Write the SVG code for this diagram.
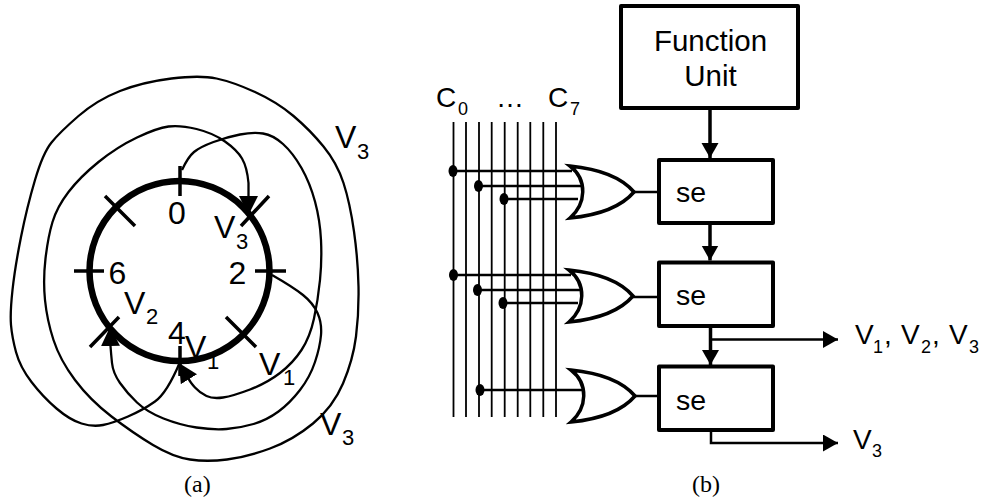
<svg xmlns="http://www.w3.org/2000/svg" width="982" height="504" viewBox="0 0 982 504">
<style>
text{font-family:"Liberation Sans",Arial,sans-serif;fill:#000}
.n{font-size:32px}.s{font-size:22px}.r{font-size:29.500px}.e{font-size:28.500px}.k{font-size:28px}.q{font-size:18px}
.cap{font-family:"Liberation Serif",serif;font-size:24px}
.w{fill:none;stroke:#000;stroke-width:2.300}
.t{fill:none;stroke:#000;stroke-width:3.500}
.b{fill:#fff;stroke:#000;stroke-width:4;stroke-linejoin:round}
.g{fill:#fff;stroke:#000;stroke-width:3.500;stroke-linejoin:miter}
.v{stroke:#000;stroke-width:1.800;fill:none}
.h{stroke:#000;stroke-width:2.500;fill:none}
.a{fill:none;stroke:#000;stroke-width:3.500}
.o{fill:none;stroke:#000;stroke-width:2.500}
</style>
<defs>
<marker id="big" markerUnits="userSpaceOnUse" markerWidth="20" markerHeight="20" refX="19" refY="10" orient="auto"><path d="M0,0.500L19,10L0,19.500Z"/></marker>
<marker id="ar" markerUnits="userSpaceOnUse" markerWidth="16" markerHeight="18" refX="15" refY="8.500" orient="auto"><path d="M0,0L15,8.500L0,17Z"/></marker>
<path id="or" d="M0,0C30,3 52,12 64,26C52,40 30,49 0,52C16,38 18,14 0,0Z"/>
</defs>
<g id="ring">
<circle cx="179.500" cy="271" r="90" fill="none" stroke="#000" stroke-width="6.500"/>
<path class="t" d="M180,166V196M180,346V376M74,271H104M255,271H286M269,196L241,226M105,196L135,226M226,317L256,347M119,317L90,347"/>
</g>
<g id="connectors-a">
<path class="w" marker-end="url(#big)" d="M182,170Q188,157 194,152Q200,147 213.500,142Q227,137 240,134.500Q253,132 263,133.500Q273,135 283,144Q293,153 301.500,168Q310,183 315,201.500Q320,220 321,240Q322,260 320,280Q318,300 314,318.500Q310,337 301.500,350Q293,363 280,373Q267,383 250,389.500Q233,396 223,397.500Q213,399 206.500,396Q200,393 195,387.500Q190,382 188.500,378.500L179,363"/>
<path class="w" marker-end="url(#big)" d="M180,362Q167,393 155,401.500Q143,410 128,416.500Q113,423 103,425Q93,427 81.500,423.500Q70,420 56.500,408.500Q43,397 31.500,382Q20,367 16,352Q12,337 11,325Q10,313 12.500,290Q15,267 21,237Q27,207 35,180Q43,153 51.500,142.500Q60,132 78.500,116Q97,100 120,91Q143,82 171.500,78.500Q200,75 216.500,78.500Q233,82 255,92Q277,102 293.500,116Q310,130 323.500,146.500Q337,163 343.500,183Q350,203 354,231.500Q358,260 358.500,286.500Q359,313 356,336.500Q353,360 343,383.500Q333,407 313,423.500Q293,440 270,448.500Q247,457 227,459.500Q207,462 190,459.500Q173,457 153,445Q133,433 111.500,416.500Q90,400 75,380Q60,360 53.500,340Q47,320 45,300Q43,280 45.500,258.500Q48,237 52.500,222Q57,207 68.500,192Q80,177 98.500,162Q117,147 137,137.500Q157,128 168.500,126.500Q180,125 196.500,129Q213,133 225,141.500Q237,150 242,158.500Q247,167 248.500,183L248.500,215"/>
<path class="w" marker-end="url(#big)" d="M272,275Q293,287 303,295Q313,303 317.500,313Q322,323 321,335Q320,347 315,362Q310,377 300,390Q290,403 278.500,411.500Q267,420 253.500,424Q240,428 226.500,429Q213,430 196.500,427.500Q180,425 163.500,418.500Q147,412 137,402.500Q127,393 120,383Q113,373 112,363Q111,353 110.500,346L110,327"/>
</g>
<g id="labels-a">
<text class="n" x="168" y="224">0</text>
<text class="n" x="228.500" y="284">2</text>
<text class="n" x="168" y="344">4</text>
<text class="n" x="108.500" y="284">6</text>
<text class="n" x="335" y="148">V</text><text class="s" x="357" y="159">3</text>
<text class="n" x="214" y="238">V</text><text class="s" x="236" y="249">3</text>
<text class="n" x="124" y="314">V</text><text class="s" x="146" y="324">2</text>
<text class="n" x="185" y="358">V</text><text class="s" x="207" y="369">1</text>
<text class="n" x="259" y="375">V</text><text class="s" x="283" y="385">1</text>
<text class="n" x="320" y="435">V</text><text class="s" x="342" y="445">3</text>
<text class="cap" x="184" y="492">(a)</text>
</g>
<g id="bus">
<path class="v" d="M453.500,122V417M466,122V417M479,122V417M491.700,122V417M504.700,122V417M517.700,122V417M530.300,122V417M543.300,122V417M556,122V417"/>
</g>
<g id="labels-b">
<text class="k" x="436" y="107">C</text><text class="q" x="458" y="115">0</text>
<text class="k" x="496" y="107">…</text>
<text class="k" x="548" y="107">C</text><text class="q" x="570" y="115">7</text>
<text class="k" x="855" y="344">V</text><text class="q" x="873" y="353">1</text><text class="k" x="884" y="344">,</text>
<text class="k" x="901" y="344">V</text><text class="q" x="921" y="353">2</text><text class="k" x="932" y="344">,</text>
<text class="k" x="949" y="344">V</text><text class="q" x="969" y="353">3</text>
<text class="k" x="853" y="449">V</text><text class="q" x="872" y="457">3</text>
<text class="cap" x="692" y="492">(b)</text>
</g>
<g id="wires-b">
<path class="h" d="M453,171H572M478,186H583M504,199H578M453,275H571M478,290H582M503,303H578M480,390H583"/>
<path class="o" d="M634,192H659M633,297H659M635,396H659"/>
<path class="a" marker-end="url(#ar)" d="M710,108V158"/>
<path class="a" marker-end="url(#ar)" d="M710,223V260.500"/>
<path class="a" marker-end="url(#ar)" d="M710.500,326V365"/>
<path class="o" marker-end="url(#ar)" d="M711,339.500H838"/>
<path class="o" marker-end="url(#ar)" d="M711,430V443H838"/>
<ellipse cx="453" cy="171" rx="4.500" ry="6"/><ellipse cx="478.500" cy="186" rx="4.500" ry="6"/><ellipse cx="504" cy="199" rx="4.500" ry="6"/>
<ellipse cx="453.500" cy="275" rx="4.500" ry="6"/><ellipse cx="477.500" cy="290" rx="4.500" ry="6"/><ellipse cx="503" cy="303" rx="4.500" ry="6"/>
<ellipse cx="480" cy="390" rx="4.500" ry="6"/>
</g>
<g id="gate1"><use href="#or" x="570" y="166" class="g"/></g>
<g id="gate2"><use href="#or" x="569" y="270" class="g"/></g>
<g id="gate3"><use href="#or" x="571" y="370" class="g"/></g>
<g id="function-unit"><rect class="b" x="621" y="6" width="177" height="102"/><text class="r" x="710.500" y="51" text-anchor="middle">Function</text><text class="r" x="710.500" y="86" text-anchor="middle">Unit</text></g>
<g id="se1"><rect class="b" x="659" y="160" width="114" height="63"/><text class="e" x="676" y="202">se</text></g>
<g id="se2"><rect class="b" x="659" y="262.500" width="114" height="63.500"/><text class="e" x="676" y="305">se</text></g>
<g id="se3"><rect class="b" x="659" y="366.500" width="114" height="63.500"/><text class="e" x="676" y="410">se</text></g>
</svg>
